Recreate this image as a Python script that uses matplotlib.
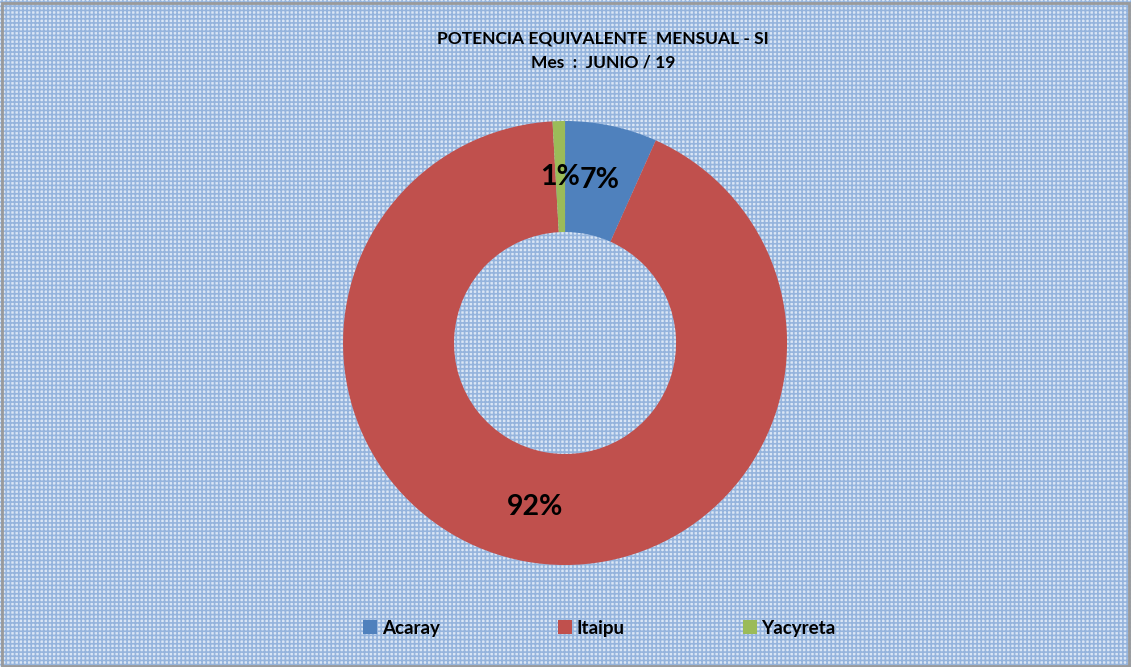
import matplotlib.pyplot as plt
from matplotlib.patches import Rectangle

# data
labels = ["Acaray", "Itaipu", "Yacyreta"]
shares = [6.7, 92.4, 0.9]
colors = ["#4f81bd", "#c0504d", "#9bbb59"]
title = "POTENCIA EQUIVALENTE  MENSUAL - SI\nMes  :  JUNIO / 19"

plt.rcParams['font.family'] = ['Lato', 'DejaVu Sans']

fig = plt.figure(figsize=(11.31, 6.67), dpi=100, facecolor="#dae6f5")

# checkered blue background
plt.rcParams['hatch.linewidth'] = 1.2
bg = Rectangle((0, 0), 1, 1, transform=fig.transFigure, facecolor="none",
               edgecolor="#95b4dd", hatch="++++", linewidth=0, zorder=-10)
fig.patches.append(bg)
fig.patches.append(Rectangle((0.002, 0.002), 0.996, 0.994, transform=fig.transFigure,
                             facecolor="none", edgecolor="#9a9a9a", linewidth=2, zorder=-5))

ax = fig.add_axes([0.3033, 0.1529, 0.3926, 0.6657])
ax.set_facecolor("none")
wedges, _, pcts = ax.pie(shares, colors=colors, startangle=90, counterclock=False,
                         autopct="%.0f%%", pctdistance=0.75,
                         wedgeprops=dict(width=0.5, edgecolor="none"),
                         textprops=dict(fontsize=20.5, fontweight="bold", color="black"))
ax.set_xlim(-1, 1)
ax.set_ylim(-1, 1)

fig.text(0.533, 0.924, title, ha="center", va="center", fontsize=12.5,
         fontweight="bold", linespacing=1.6)

fig.legend(wedges, labels, loc="center", bbox_to_anchor=(0.53, 0.058), ncol=3,
           frameon=False, columnspacing=6.3, handlelength=0.75, handleheight=0.75,
           handletextpad=0.25, prop=dict(size=13.5, weight="bold"))

fig.savefig("out.png", dpi=100, facecolor=fig.get_facecolor())
